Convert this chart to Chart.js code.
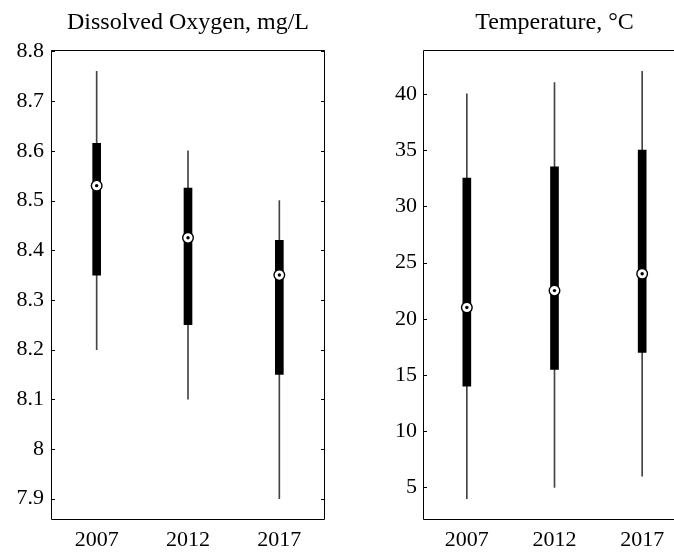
<!DOCTYPE html>
<html>
<head>
<meta charset="utf-8">
<script src="https://cdn.jsdelivr.net/npm/chart.js@4"></script>
<style>
  html, body { margin: 0; padding: 0; background: #fff; overflow: hidden; }
  body { width: 674px; height: 552px; position: relative; }
  #leftBox, #rightBox { position: absolute; top: 0; height: 552px; overflow: hidden; }
  #leftBox { left: 0; width: 340px; }
  #rightBox { left: 340px; width: 334px; }
  canvas { display: block; }
</style>
</head>
<body>
<div id="leftBox"><canvas id="doChart" width="340" height="552"></canvas></div>
<div id="rightBox"><canvas id="tempChart" width="360" height="552"></canvas></div>
<script>
// years on the x axis
const years = ["2007", "2012", "2017"];

// dissolved oxygen, mg/L
const doMin = [8.2, 8.1, 7.9];
const doQ1 = [8.35, 8.25, 8.15];
const doMed = [8.53, 8.425, 8.35];
const doQ3 = [8.615, 8.525, 8.42];
const doMax = [8.76, 8.6, 8.5];
const doTicks = [7.9, 8, 8.1, 8.2, 8.3, 8.4, 8.5, 8.6, 8.7, 8.8];

// temperature, °C
const tMin = [4, 5, 6];
const tQ1 = [14, 15.5, 17];
const tMed = [21, 22.5, 24];
const tQ3 = [32.5, 33.5, 35];
const tMax = [40, 41, 42];
const tTicks = [5, 10, 15, 20, 25, 30, 35, 40];

const serif = "'Liberation Serif', 'Times New Roman', serif";

// box outline + inward ticks like matlab
const frame = {
  id: "frame",
  afterDraw(chart) {
    const { ctx, chartArea: a } = chart;
    const y = chart.scales.y;
    const l = Math.round(a.left) + 0.5, r = Math.round(a.right) - 0.5;
    const t = Math.round(a.top) + 0.5, b = Math.round(a.bottom) - 0.5;
    ctx.save();
    ctx.strokeStyle = "#000";
    ctx.lineWidth = 1;
    ctx.beginPath();
    ctx.moveTo(l, t); ctx.lineTo(r, t); ctx.lineTo(r, b); ctx.lineTo(l, b); ctx.closePath();
    y.ticks.forEach(tk => {
      const py = Math.round(y.getPixelForValue(tk.value)) + 0.5;
      ctx.moveTo(a.left, py);
      ctx.lineTo(a.left + 4, py);
      ctx.moveTo(a.right, py);
      ctx.lineTo(a.right - 4, py);
    });
    ctx.stroke();
    ctx.restore();
  }
};

function makeBoxChart(id, title, mins, q1, med, q3, maxs, tickVals, yMin, yMax, yWidth, padRight, tickPad) {
  const ranges = mins.map((v, i) => [v, maxs[i]]);
  const boxes = q1.map((v, i) => [v, q3[i]]);
  return new Chart(document.getElementById(id), {
    type: "bar",
    data: {
      labels: years,
      datasets: [
        {
          type: "line", data: med, showLine: false,
          pointRadius: 1.7, pointBackgroundColor: "#000", pointBorderWidth: 0,
          order: 0
        },
        {
          type: "line", data: med, showLine: false,
          pointRadius: 5.3, pointBackgroundColor: "#fff",
          pointBorderColor: "#000", pointBorderWidth: 1.4,
          order: 1
        },
        {
          data: boxes, backgroundColor: "#000", barThickness: 8,
          grouped: false, order: 2
        },
        {
          data: ranges, backgroundColor: "#444", barThickness: 1,
          grouped: false, order: 3
        }
      ]
    },
    options: {
      responsive: false,
      animation: false,
      events: [],
      layout: { padding: { right: padRight } },
      plugins: {
        legend: { display: false },
        tooltip: { enabled: false },
        title: {
          display: true,
          text: title,
          fullSize: false,
          color: "#000",
          font: { family: serif, size: 24, weight: "normal", lineHeight: 1.2 },
          padding: { top: 8, bottom: 13.2 }
        }
      },
      scales: {
        x: {
          offset: true,
          grid: { display: false, drawTicks: false },
          border: { display: false },
          ticks: { color: "#000", font: { family: serif, size: 22 }, padding: 7 },
          afterFit: s => { s.height = 32; }
        },
        y: {
          min: yMin,
          max: yMax,
          grid: { display: false, drawTicks: false },
          border: { display: false },
          ticks: {
            color: "#000",
            font: { family: serif, size: 22 },
            padding: tickPad,
            callback: v => String(+v.toFixed(1))
          },
          afterBuildTicks: s => { s.ticks = tickVals.map(v => ({ value: v })); },
          afterFit: s => { s.width = yWidth; }
        }
      }
    },
    plugins: [frame]
  });
}

makeBoxChart("doChart", "Dissolved Oxygen, mg/L", doMin, doQ1, doMed, doQ3, doMax,
  doTicks, 7.857, 8.803, 51, 15, 7);
// right panel runs past the window edge, as in the original figure
makeBoxChart("tempChart", "Temperature, °C", tMin, tQ1, tMed, tQ3, tMax,
  tTicks, 2.1, 43.9, 83, 14, 6);
</script>
</body>
</html>
